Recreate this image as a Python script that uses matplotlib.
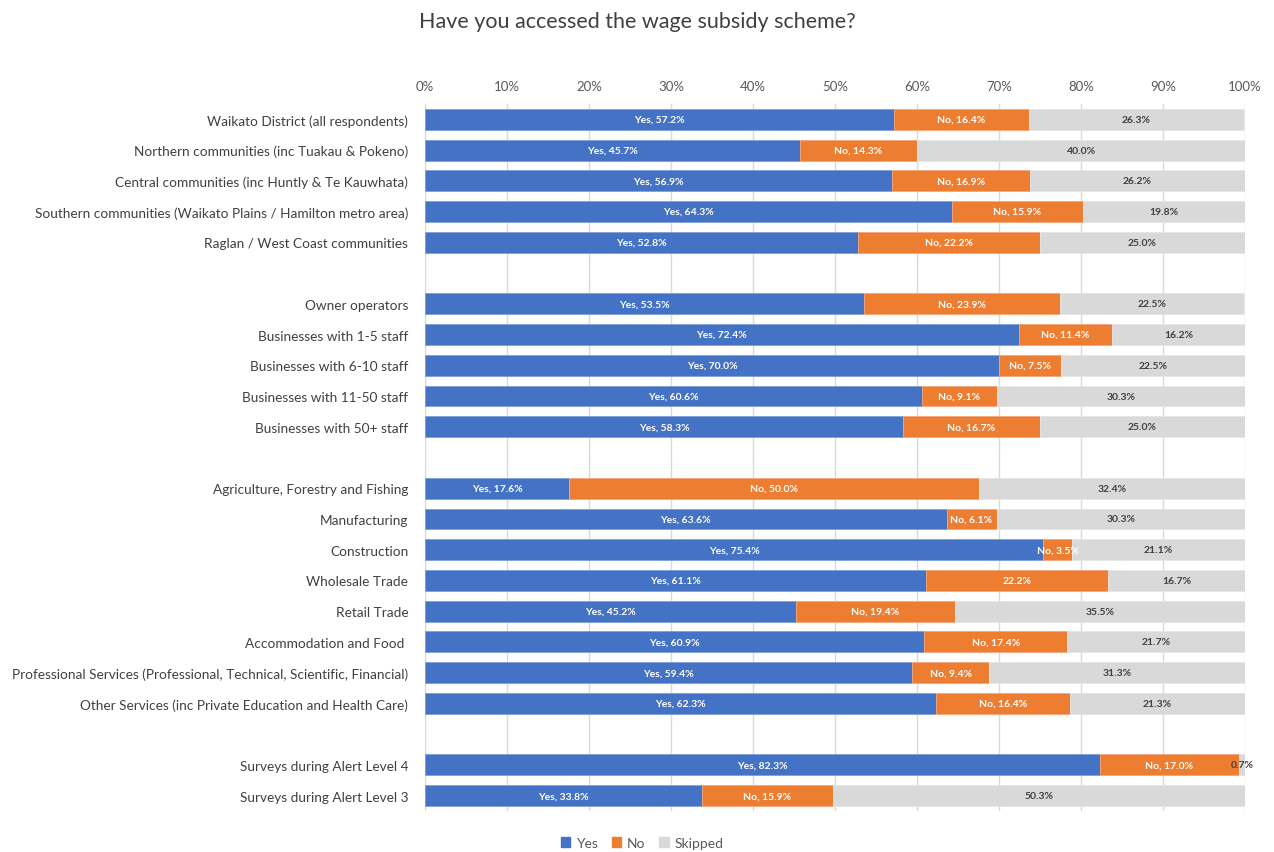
import matplotlib.pyplot as plt
import numpy as np

plt.rcParams['font.family'] = ['Lato', 'DejaVu Sans']

# rows (None = empty spacer row)
labels = ['Waikato District (all respondents)',
          'Northern communities (inc Tuakau & Pokeno)',
          'Central communities (inc Huntly & Te Kauwhata)',
          'Southern communities (Waikato Plains / Hamilton metro area)',
          'Raglan / West Coast communities',
          None,
          'Owner operators',
          'Businesses with 1-5 staff',
          'Businesses with 6-10 staff',
          'Businesses with 11-50 staff',
          'Businesses with 50+ staff',
          None,
          'Agriculture, Forestry and Fishing',
          'Manufacturing',
          'Construction',
          'Wholesale Trade',
          'Retail Trade',
          'Accommodation and Food ',
          'Professional Services (Professional, Technical, Scientific, Financial)',
          'Other Services (inc Private Education and Health Care)',
          None,
          'Surveys during Alert Level 4',
          'Surveys during Alert Level 3']

yes = [57.2, 45.7, 56.9, 64.3, 52.8, None, 53.5, 72.4, 70.0, 60.6, 58.3, None,
       17.6, 63.6, 75.4, 61.1, 45.2, 60.9, 59.4, 62.3, None, 82.3, 33.8]
no = [16.4, 14.3, 16.9, 15.9, 22.2, None, 23.9, 11.4, 7.5, 9.1, 16.7, None,
      50.0, 6.1, 3.5, 22.2, 19.4, 17.4, 9.4, 16.4, None, 17.0, 15.9]
skipped = [26.3, 40.0, 26.2, 19.8, 25.0, None, 22.5, 16.2, 22.5, 30.3, 25.0, None,
           32.4, 30.3, 21.1, 16.7, 35.5, 21.7, 31.3, 21.3, None, 0.7, 50.3]

blue = '#4472C4'
orange = '#ED7D31'
grey = '#D9D9D9'

fig = plt.figure(figsize=(12.74, 8.53), dpi=100)
ax = fig.add_axes([425/1274, 1-812/853, 820/1274, 707/853])

h = 0.68
for i, lab in enumerate(labels):
    if lab is None:
        continue
    y, n, s = yes[i], no[i], skipped[i]
    ax.barh(i, y, height=h, color=blue, edgecolor='#7f9fd9', linewidth=0.6, zorder=2)
    ax.barh(i, n, left=y, height=h, color=orange, edgecolor='#f4a77a', linewidth=0.6, zorder=2)
    ax.barh(i, s, left=y + n, height=h, color=grey, edgecolor='#e6e6e6', linewidth=0.6, zorder=2)
    ax.text(y / 2, i, 'Yes, %.1f%%' % y, ha='center', va='center', color='white',
            fontsize=7.5, fontweight='bold', zorder=3)
    ntxt = '%.1f%%' % n if lab == 'Wholesale Trade' else 'No, %.1f%%' % n
    ax.text(y + n / 2, i, ntxt, ha='center', va='center', color='white',
            fontsize=7.5, fontweight='bold', zorder=3)
    ax.text(y + n + s / 2, i, '%.1f%%' % s, ha='center', va='center', color='#404040',
            fontsize=7.5, fontweight='bold', zorder=3)

ax.set_xlim(0, 100)
ax.set_ylim(len(labels) - 0.5, -0.5)
ax.set_yticks([i for i, l in enumerate(labels) if l is not None])
ax.set_yticklabels([l for l in labels if l is not None], fontsize=9.8, color='#404040')
ax.set_xticks(np.arange(0, 101, 10))
ax.set_xticklabels(['%d%%' % v for v in range(0, 101, 10)], fontsize=9.5, color='#595959')
ax.xaxis.tick_top()
ax.tick_params(length=0, pad=9)
ax.tick_params(axis='y', pad=12)
ax.grid(axis='x', color='#D9D9D9', linewidth=1, zorder=0)
for sp in ax.spines.values():
    sp.set_visible(False)

fig.text(0.5, 1 - 22/853, 'Have you accessed the wage subsidy scheme?', ha='center', va='center',
         fontsize=15.5, color='#404040')

handles = [plt.Rectangle((0, 0), 1, 1, color=c) for c in (blue, orange, grey)]
fig.legend(handles, ['Yes', 'No', 'Skipped'], loc='center', bbox_to_anchor=(642/1274, 1 - 844/853),
           ncol=3, frameon=False, fontsize=10, handlelength=0.7, handleheight=0.7,
           handletextpad=0.4, columnspacing=1.0, labelcolor='#595959')

fig.savefig('out.png', dpi=100)
